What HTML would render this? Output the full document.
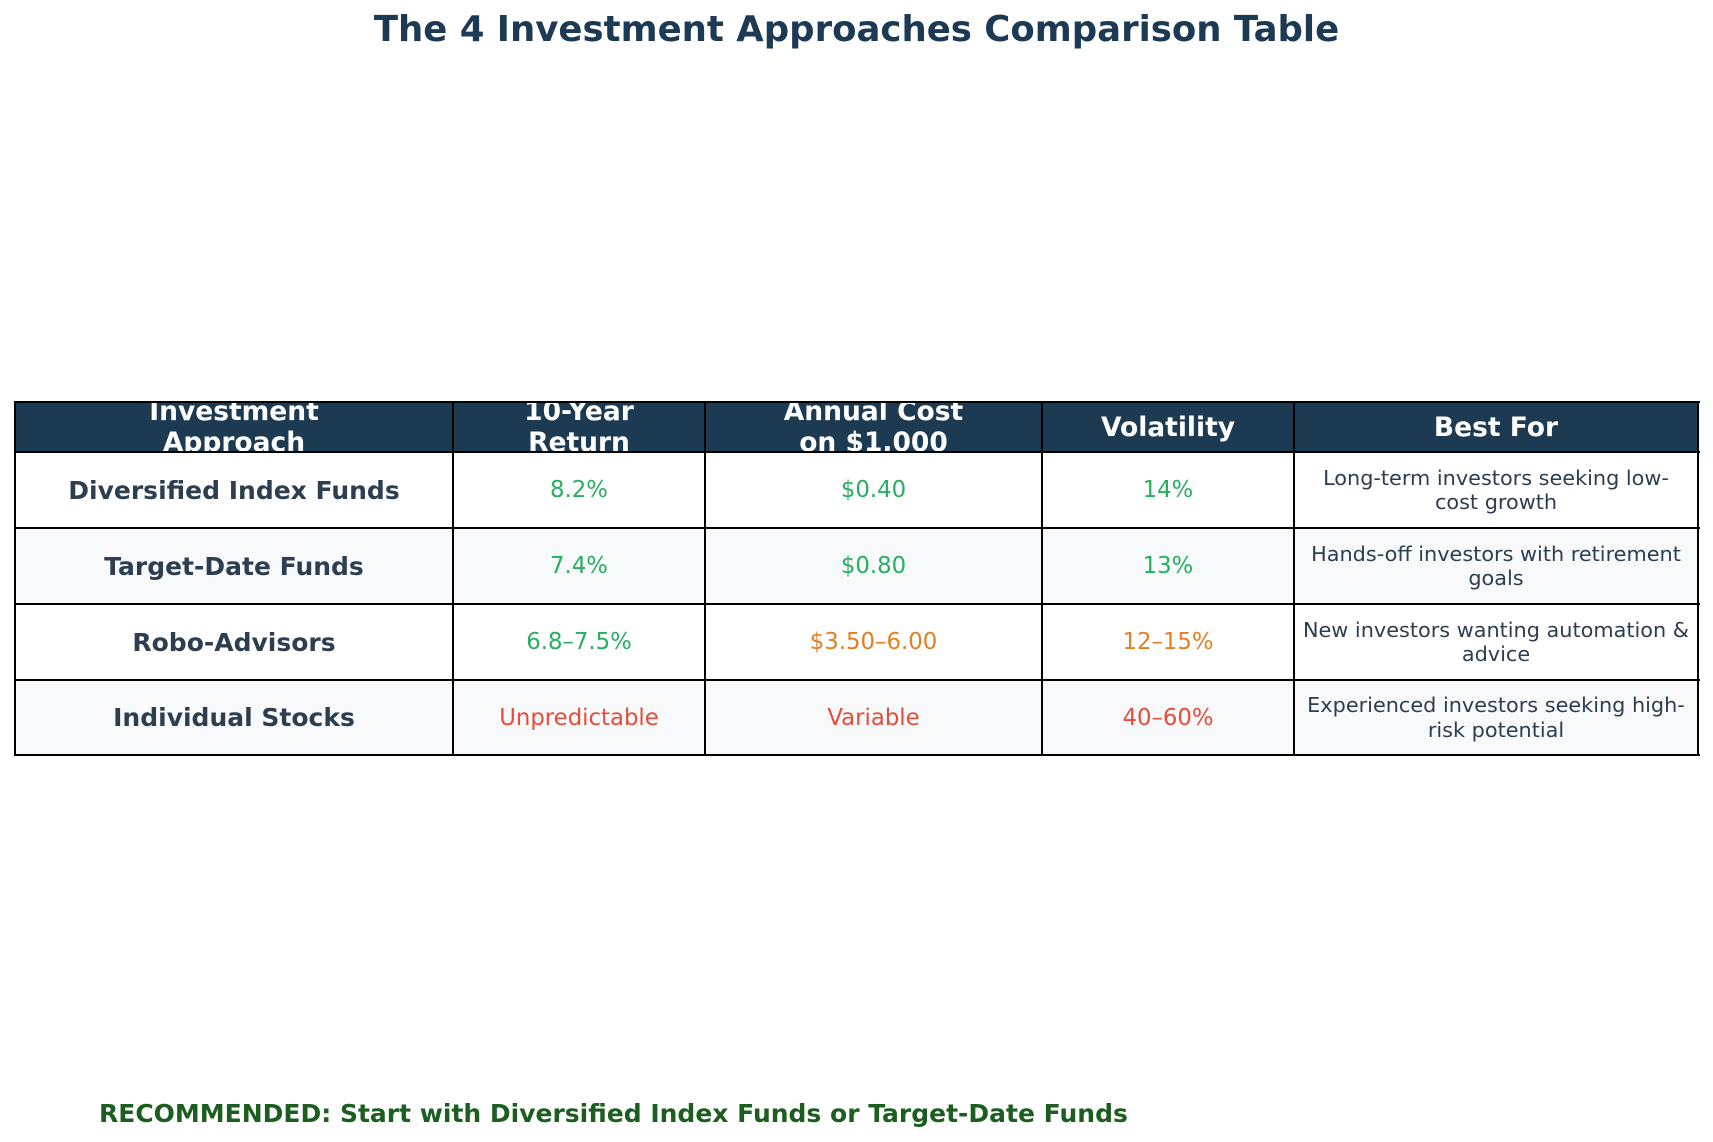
<!DOCTYPE html>
<html><head><meta charset="utf-8"><style>
body{margin:0;width:1713px;height:1142px;background:#fff;position:relative;overflow:hidden;font-family:"DejaVu Sans","Liberation Sans",sans-serif;}
.t{position:absolute;left:0;width:1713px;text-align:center;top:9px;font-size:35.5px;font-weight:bold;color:#1c3a54;line-height:42px;}
.c{position:absolute;box-sizing:border-box;display:flex;align-items:center;justify-content:center;text-align:center;white-space:nowrap;}
.h{background:#1c3a52;color:#fff;font-weight:bold;font-size:26.5px;line-height:31px;}
.lab{font-weight:bold;font-size:25px;color:#2c3e50;}
.v{font-size:22.8px;}
.b{font-size:20.8px;color:#2c3e50;line-height:24.5px;}
.g{color:#27ae60}.o{color:#e67e22}.r{color:#e74c3c}
.alt{background:#f8f9fa}
.line{position:absolute;background:#000;}
.rec{position:absolute;left:99px;top:1099px;font-size:25px;font-weight:bold;color:#1b5e20;line-height:30px;white-space:nowrap;}
</style></head><body>
<div class="t">The 4 Investment Approaches Comparison Table</div>

<div class="c h" style="left:15px;top:402px;width:1683px;height:50px;"></div>
<div class="c h" style="left:15px;top:402px;width:438px;height:50px;">Investment<br>Approach</div>
<div class="c h" style="left:453px;top:402px;width:252px;height:50px;">10-Year<br>Return</div>
<div class="c h" style="left:705px;top:402px;width:337px;height:50px;">Annual Cost<br>on $1,000</div>
<div class="c h" style="left:1042px;top:402px;width:252px;height:50px;">Volatility</div>
<div class="c h" style="left:1294px;top:402px;width:404px;height:50px;">Best For</div>

<div class="c alt" style="left:15px;top:528px;width:1683px;height:75px;"></div>
<div class="c alt" style="left:15px;top:680px;width:1683px;height:75px;"></div>

<div class="c lab" style="left:15px;top:452px;width:438px;height:76px;">Diversified Index Funds</div>
<div class="c v g" style="left:453px;top:452px;width:252px;height:76px;">8.2%</div>
<div class="c v g" style="left:705px;top:452px;width:337px;height:76px;">$0.40</div>
<div class="c v g" style="left:1042px;top:452px;width:252px;height:76px;">14%</div>
<div class="c b" style="left:1294px;top:452px;width:404px;height:76px;">Long-term investors seeking low-<br>cost growth</div>

<div class="c lab" style="left:15px;top:528px;width:438px;height:76px;">Target-Date Funds</div>
<div class="c v g" style="left:453px;top:528px;width:252px;height:76px;">7.4%</div>
<div class="c v g" style="left:705px;top:528px;width:337px;height:76px;">$0.80</div>
<div class="c v g" style="left:1042px;top:528px;width:252px;height:76px;">13%</div>
<div class="c b" style="left:1294px;top:528px;width:404px;height:76px;">Hands-off investors with retirement<br>goals</div>

<div class="c lab" style="left:15px;top:604px;width:438px;height:76px;">Robo-Advisors</div>
<div class="c v g" style="left:453px;top:604px;width:252px;height:76px;">6.8–7.5%</div>
<div class="c v o" style="left:705px;top:604px;width:337px;height:76px;">$3.50–6.00</div>
<div class="c v o" style="left:1042px;top:604px;width:252px;height:76px;">12–15%</div>
<div class="c b" style="left:1294px;top:604px;width:404px;height:76px;">New investors wanting automation &amp;<br>advice</div>

<div class="c lab" style="left:15px;top:680px;width:438px;height:75px;">Individual Stocks</div>
<div class="c v r" style="left:453px;top:680px;width:252px;height:75px;">Unpredictable</div>
<div class="c v r" style="left:705px;top:680px;width:337px;height:75px;">Variable</div>
<div class="c v r" style="left:1042px;top:680px;width:252px;height:75px;">40–60%</div>
<div class="c b" style="left:1294px;top:680px;width:404px;height:75px;">Experienced investors seeking high-<br>risk potential</div>

<div class="line" style="left:14px;top:401px;width:1686px;height:2px;"></div>
<div class="line" style="left:14px;top:451px;width:1686px;height:2px;"></div>
<div class="line" style="left:14px;top:527px;width:1686px;height:2px;"></div>
<div class="line" style="left:14px;top:603px;width:1686px;height:2px;"></div>
<div class="line" style="left:14px;top:679px;width:1686px;height:2px;"></div>
<div class="line" style="left:14px;top:754px;width:1686px;height:2px;"></div>
<div class="line" style="left:14px;top:401px;width:2px;height:355px;"></div>
<div class="line" style="left:452px;top:401px;width:2px;height:355px;"></div>
<div class="line" style="left:704px;top:401px;width:2px;height:355px;"></div>
<div class="line" style="left:1041px;top:401px;width:2px;height:355px;"></div>
<div class="line" style="left:1293px;top:401px;width:2px;height:355px;"></div>
<div class="line" style="left:1697px;top:401px;width:2px;height:355px;"></div>

<div class="rec">RECOMMENDED: Start with Diversified Index Funds or Target-Date Funds</div>
</body></html>
